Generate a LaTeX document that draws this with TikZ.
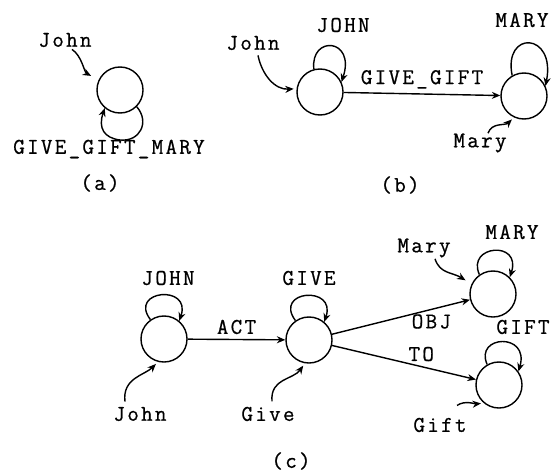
\documentclass[tikz,border=0pt]{standalone}
\usepackage{fontspec}
\setmonofont{Latin Modern Mono}[LetterSpace=10, FakeBold=0.7]
\usetikzlibrary{arrows.meta,calc}

\begin{document}
\begin{tikzpicture}[x=0.025cm, y=-0.025cm, line width=1pt,
	every node/.style={font=\fontsize{16}{18}\selectfont\ttfamily},
	>={Stealth[length=6pt,width=5pt]},
	state/.style={draw, circle, minimum size=1.15cm, inner sep=0pt},
	ptr/.style={->, shorten >=2pt}]
	\useasboundingbox (0,0) rectangle (552,473);
	\node[state] (aC) at (120,90) {};
	\node (aJ) at (65,40) {John};
	\node (aLbl) at (109,149) {GIVE\_GIFT\_MARY};
	\node (aCap) at (100,183) {(a)};
	\draw[->] (aC.-45) .. controls (150,122) and (140,142) .. (120,140) .. controls (104,138) and (98,128) .. (aC.-130);
	\draw[ptr, shorten >=6pt] ($(aJ.south)+(7,-3)$) .. controls (82,56) and (84,72) .. (aC.155);
	\node[state] (bL) at (320,92) {};
	\node[state] (bR) at (524,96) {};
	\node (bJ) at (253,43) {John};
	\node (bJJ) at (343,25) {JOHN};
	\node (bMM) at (522,20) {MARY};
	\node (bMl) at (480,143) {Mary};
	\node (bCap) at (400,185) {(b)};
	\draw[->] (bL) -- (bR) node[midway, above] {GIVE\_GIFT};
	\draw[->] (bL.105) .. controls (310,35) and (356,38) .. (bL.25);
	\draw[->] (bR.120) .. controls (503,30) and (556,32) .. (bR.25);
	\draw[ptr] ($(bJ.south)+(5,0)$) .. controls (262,75) and (275,90) .. (bL.172);
	\draw[ptr] ($(bMl.north)+(8,5)$) .. controls (492,122) and (505,126) .. (bR.-115);
	\node[state] (cJ) at (164,339) {};
	\node[state] (cG) at (309,340) {};
	\node[state] (cM) at (493,294) {};
	\node[state] (cF) at (499,385) {};
	\node (cJJ) at (168,278) {JOHN};
	\node (cGG) at (309,278) {GIVE};
	\node (cMM) at (512,232) {MARY};
	\node (cFF) at (523,327) {GIFT};
	\node (cJl) at (140,414) {John};
	\node (cGl) at (268,414) {Give};
	\node (cMl) at (424,248) {Mary};
	\node (cFl) at (440,425) {Gift};
	\node (cCap) at (291,461) {(c)};
	\draw[->] (cJ) -- (cG) node[midway, above] {ACT};
	\draw[->] (cG) -- (cM) node[pos=0.72, below, inner sep=3pt] {OBJ};
	\draw[->] (cG) -- (cF) node[pos=0.62, above] {TO};
	\draw[->] (cJ.125) .. controls (128,290) and (192,284) .. (cJ.50);
	\draw[->] (cG.125) .. controls (273,290) and (337,285) .. (cG.50);
	\draw[->] (cM.125) .. controls (466,245) and (522,240) .. (cM.45);
	\draw[->] (cF.120) .. controls (474,335) and (530,332) .. (cF.35);
	\draw[ptr] ($(cJl.north)+(-15,0)$) .. controls (122,378) and (145,375) .. (cJ.-105);
	\draw[ptr] ($(cGl.north)+(4,0)$) .. controls (270,378) and (293,380) .. (cG.-100);
	\draw[ptr, shorten >=5pt] ($(cMl.south)+(11,-4)$) .. controls (440,274) and (452,272) .. (cM.155);
	\draw[ptr] ($(cFl.north)+(17,-7)$) .. controls (465,400) and (475,404) .. (cF.-130);
\end{tikzpicture}
\end{document}
